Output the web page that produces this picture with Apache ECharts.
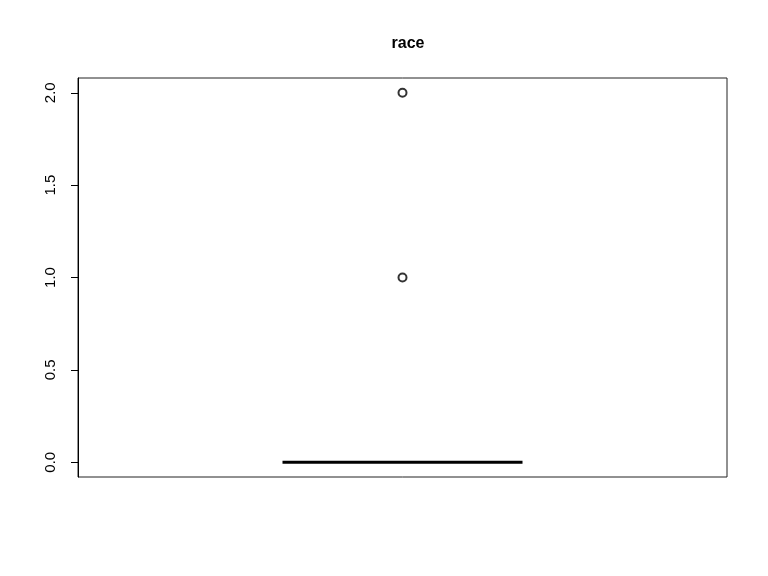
<!DOCTYPE html>
<html><head><meta charset="utf-8">
<script src="https://cdn.jsdelivr.net/npm/echarts@6/dist/echarts.min.js"></script>
<style>html,body{margin:0;padding:0;background:#fff}#c{width:768px;height:576px}</style>
</head><body><div id="c"></div>
<script>
var title = 'race';
var categories = ['race'];
// boxplot stats: min, Q1, median, Q3, max
var boxStats = [[0, 0, 0, 0, 0]];
var outliers = [1, 2];
var yTicks = [0, 0.5, 1, 1.5, 2];

var chart = echarts.init(document.getElementById('c'), null, {renderer: 'canvas'});
chart.setOption({
  animation: false,
  backgroundColor: '#fff',
  title: {
    text: title, left: 403, top: 31, textAlign: 'center',
    textStyle: {fontFamily: 'Liberation Sans', fontSize: 16, fontWeight: 'bold', color: '#000'}
  },
  grid: {left: 78, right: 41, top: 78, bottom: 99, show: true, borderColor: '#222', borderWidth: 1, backgroundColor: 'transparent'},
  xAxis: {
    type: 'category', data: categories, boundaryGap: true,
    axisLine: {show: false}, axisTick: {show: false}, axisLabel: {show: false}, splitLine: {show: false}
  },
  yAxis: {
    type: 'value', min: -0.08, max: 2.08,
    axisLine: {show: true, lineStyle: {color: '#000', width: 1}},
    axisTick: {show: true, length: 7, customValues: yTicks, lineStyle: {color: '#000'}},
    axisLabel: {
      show: true, rotate: 90, margin: 20, customValues: yTicks,
      fontFamily: 'Liberation Sans', fontSize: 15, color: '#000',
      formatter: function (v) { return v.toFixed(1); }
    },
    splitLine: {show: false}
  },
  series: [
    {
      type: 'boxplot', data: boxStats, boxWidth: [240, 240],
      itemStyle: {color: 'transparent', borderColor: '#000', borderWidth: 3},
      silent: true
    },
    {
      type: 'scatter', data: outliers.map(function (v) { return [categories[0], v]; }),
      symbol: 'circle', symbolSize: 8,
      itemStyle: {color: '#fff', borderColor: '#000', borderWidth: 2},
      silent: true
    }
  ]
});
</script></body></html>
